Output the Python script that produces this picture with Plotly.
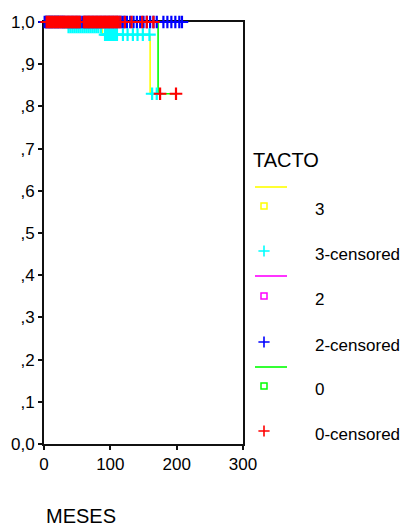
import plotly.graph_objects as go

# ---------------- data ----------------
# Group TACTO = 3 (yellow curve, cyan censored marks)
g3_curve_time = [0, 25, 88, 160, 170]
g3_curve_surv = [1.0, 0.988, 0.970, 0.830, 0.830]
g3_cens_time = [3, 8, 12, 17, 21,
                37, 40, 43, 46, 49, 52, 55, 58, 61, 64, 67, 70, 73, 76, 79, 82, 86,
                92, 94, 96, 98, 100, 102, 104, 106, 108, 110, 119, 126, 134, 141, 149, 159,
                163, 170]
g3_cens_surv = [1.0] * 5 + [0.988] * 17 + [0.970] * 16 + [0.830] * 2

# Group TACTO = 2 (magenta curve, blue censored marks)
g2_curve_time = [0, 208]
g2_curve_surv = [1.0, 1.0]
g2_cens_time = [1, 3, 5, 7, 9, 11, 13, 15, 17, 19, 21, 23, 25, 27, 29, 31, 34, 37, 40, 43,
                46, 49, 52, 55, 58, 61, 64, 67, 70, 73, 76, 79, 82, 85, 88, 91, 94, 97,
                100, 103, 106, 109, 112, 115, 118, 121, 125, 130, 135, 140, 145, 150,
                155, 160, 165, 170, 180, 186, 192, 198, 204, 208]
g2_cens_surv = [1.0] * len(g2_cens_time)

# Group TACTO = 0 (green curve, red censored marks)
g0_curve_time = [0, 172, 199]
g0_curve_surv = [1.0, 0.830, 0.830]
g0_cens_time = [4, 6, 8, 10, 12, 14, 16, 18, 20, 22, 24, 26, 28, 30, 32, 34, 36, 38, 40,
                42, 44, 46, 48, 50, 52, 54, 60, 62, 64, 66, 68, 70, 72, 74, 76, 78, 80,
                82, 84, 86, 88, 90, 92, 94, 96, 98, 100, 102, 104, 106, 108, 110, 112,
                115, 122, 132, 148, 155, 165, 175, 199]
g0_cens_surv = [1.0] * 59 + [0.830] * 2

x_ticks = [0, 100, 200, 300]
y_ticks = [0, 0.1, 0.2, 0.3, 0.4, 0.5, 0.6, 0.7, 0.8, 0.9, 1.0]
y_tick_text = ["0,0", ",1", ",2", ",3", ",4", ",5", ",6", ",7", ",8", ",9", "1,0"]

legend_title = "TACTO"
legend_labels = ["3", "3-censored", "2", "2-censored", "0", "0-censored"]
line_colors = ["#ffff00", "#ff00ff", "#00ff00"]
cens_colors = ["#00ffff", "#0000ff", "#ff0000"]

FONT = "Liberation Sans, Arial, sans-serif"
W, H = 403, 528

fig = go.Figure()

# step curves
for t, s, c in [(g3_curve_time, g3_curve_surv, line_colors[0]),
                (g2_curve_time, g2_curve_surv, line_colors[1]),
                (g0_curve_time, g0_curve_surv, line_colors[2])]:
    fig.add_trace(go.Scatter(x=t, y=s, mode="lines", line=dict(color=c, width=1.6, shape="hv"),
                             cliponaxis=False, showlegend=False, hoverinfo="skip"))

# censored marks
for t, s, c in [(g3_cens_time, g3_cens_surv, cens_colors[0]),
                (g2_cens_time, g2_cens_surv, cens_colors[1]),
                (g0_cens_time, g0_cens_surv, cens_colors[2])]:
    fig.add_trace(go.Scatter(x=t, y=s, mode="markers",
                             marker=dict(symbol="cross-thin", size=9, line=dict(color=c, width=2.2)),
                             cliponaxis=False, showlegend=False, hoverinfo="skip"))

# ---------------- legend drawn on a pixel-like helper axis ----------------
LX0, LX1, LMX, LTX = 255, 287, 264, 313
legend_rows = [
    ("line", line_colors[0], 187, None),
    ("square", line_colors[0], 206, legend_labels[0]),
    ("plus", cens_colors[0], 251, legend_labels[1]),
    ("line", line_colors[1], 276, None),
    ("square", line_colors[1], 296, legend_labels[2]),
    ("plus", cens_colors[1], 342, legend_labels[3]),
    ("line", line_colors[2], 367, None),
    ("square", line_colors[2], 386, legend_labels[4]),
    ("plus", cens_colors[2], 431, legend_labels[5]),
]
annotations = []
for kind, col, yy, lab in legend_rows:
    if kind == "line":
        fig.add_trace(go.Scatter(x=[LX0, LX1], y=[yy, yy], xaxis="x2", yaxis="y2", mode="lines",
                                 line=dict(color=col, width=1.6), showlegend=False, hoverinfo="skip"))
    elif kind == "square":
        fig.add_trace(go.Scatter(x=[LMX], y=[yy], xaxis="x2", yaxis="y2", mode="markers",
                                 marker=dict(symbol="square-open", size=6, color=col,
                                             line=dict(color=col, width=1.5)),
                                 showlegend=False, hoverinfo="skip"))
    else:
        fig.add_trace(go.Scatter(x=[LMX], y=[yy], xaxis="x2", yaxis="y2", mode="markers",
                                 marker=dict(symbol="cross-thin", size=8, line=dict(color=col, width=1.6)),
                                 showlegend=False, hoverinfo="skip"))
    if lab is not None:
        annotations.append(dict(x=LTX, y=yy + 3, xref="x2", yref="y2", text=lab, showarrow=False,
                                xanchor="left", yanchor="middle",
                                font=dict(family=FONT, size=17, color="black")))

annotations.append(dict(x=251, y=160, xref="x2", yref="y2", text=legend_title, showarrow=False,
                        xanchor="left", yanchor="middle", font=dict(family=FONT, size=20, color="black")))
annotations.append(dict(x=44, y=516, xref="x2", yref="y2", text="MESES", showarrow=False,
                        xanchor="left", yanchor="middle", font=dict(family=FONT, size=20, color="black")))

axis_common = dict(showgrid=False, zeroline=False, showline=True, mirror=True,
                   linecolor="#111111", linewidth=2, ticks="outside", ticklen=4,
                   tickcolor="#111111", tickwidth=1.5, automargin=False, layer="below traces",
                   tickfont=dict(family=FONT, size=17, color="black"))

fig.update_layout(
    width=W, height=H, template="none",
    margin=dict(l=0, r=0, t=0, b=0),
    paper_bgcolor="white", plot_bgcolor="rgba(0,0,0,0)",
    showlegend=False,
    xaxis=dict(domain=[44 / W, 243 / W], range=[0, 300], tickvals=x_ticks, anchor="y", **axis_common),
    yaxis=dict(domain=[84 / H, 506 / H], range=[0, 1], tickvals=y_ticks, ticktext=y_tick_text,
               anchor="x", **axis_common),
    xaxis2=dict(domain=[0, 1], range=[0, W], visible=False, anchor="y2", fixedrange=True),
    yaxis2=dict(domain=[0, 1], range=[H, 0], visible=False, anchor="x2", fixedrange=True),
    annotations=annotations,
)

fig.write_html("out.html")
